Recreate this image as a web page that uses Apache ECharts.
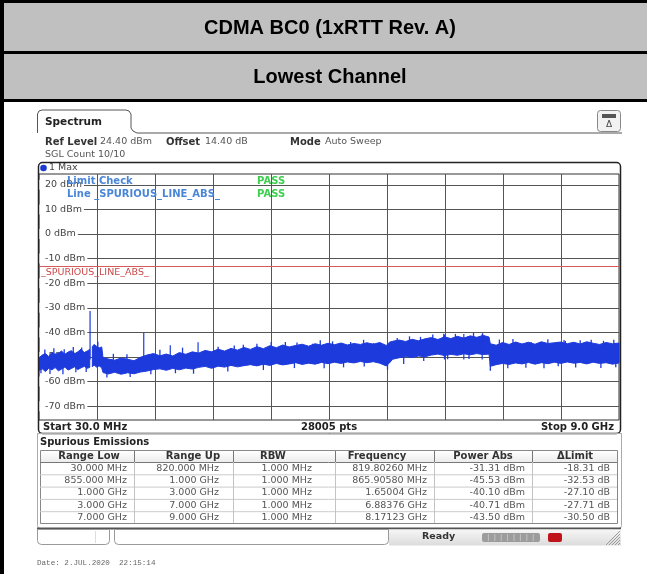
<!DOCTYPE html>
<html>
<head>
<meta charset="utf-8">
<script src="https://cdn.jsdelivr.net/npm/echarts@6/dist/echarts.min.js"></script>
<style>
  html, body { margin: 0; padding: 0; background: #fff; }
  #chart { width: 647px; height: 574px; }
</style>
</head>
<body>
<div id="chart"></div>
<script>
// sweep settings (MHz / dBm)
const startMHz = 30;
const stopMHz = 9000;
const refLevel = 24.4;
const bottomLevel = -75.6;
const limitLevel = -13;
const yGridLevels = [20, 10, 0, -10, -20, -30, -40, -50, -60, -70];

// max-hold trace envelope, 30 - 820 MHz
const seg1Freq = [30, 80, 130, 180, 230, 280, 330, 380, 430, 480, 530, 580, 630, 680, 730, 780, 815];
const seg1Top = [-50.3, -49.2, -48.6, -49.8, -48.1, -49.0, -48.4, -47.6, -48.9, -48.0, -47.4, -48.7, -47.9, -46.8, -48.2, -47.5, -46.9];
const seg1Bot = [-55.4, -54.8, -55.9, -54.6, -55.2, -54.3, -55.6, -54.9, -54.1, -55.3, -54.7, -54.0, -55.1, -54.4, -53.8, -54.6, -54.2];

// max-hold trace envelope, 855 MHz - 9 GHz
const seg2Freq = [855, 880, 920, 960, 1000, 1020, 1100, 1200, 1300, 1400, 1500, 1600, 1700, 1800, 1900, 2000,
  2100, 2200, 2300, 2400, 2500, 2600, 2700, 2800, 2900, 3000, 3100, 3200, 3300, 3400, 3500, 3600, 3700, 3800,
  3900, 4000, 4100, 4200, 4300, 4400, 4500, 4600, 4700, 4800, 4900, 5000, 5100, 5200, 5300, 5400, 5450, 5500,
  5600, 5700, 5800, 5900, 6000, 6100, 6200, 6300, 6400, 6500, 6600, 6700, 6800, 6900, 6990, 7010, 7100, 7200,
  7300, 7400, 7500, 7600, 7700, 7800, 7900, 8000, 8100, 8200, 8300, 8400, 8500, 8600, 8700, 8800, 8900, 9000];
const seg2Top = [-45.8, -44.9, -45.6, -46.3, -45.9, -50.2, -50.8, -51.3, -50.4, -50.9, -51.5, -50.1, -49.2, -48.6,
  -49.5, -48.8, -49.6, -48.2, -48.9, -47.9, -48.4, -47.3, -47.9, -46.8, -47.6, -46.5, -47.2, -46.1, -46.9, -45.8,
  -46.6, -45.4, -46.2, -45.1, -45.9, -45.3, -44.8, -45.6, -44.6, -45.2, -44.4, -45.0, -44.3, -45.1, -44.5, -44.9,
  -44.2, -44.8, -44.1, -45.3, -44.0, -43.6, -43.1, -43.7, -42.8, -43.4, -42.6, -42.1, -42.9, -41.8, -42.5, -41.6,
  -42.3, -41.4, -42.0, -41.2, -41.9, -44.6, -45.2, -44.1, -44.9, -43.9, -44.7, -44.0, -44.8, -43.8, -44.5, -44.2,
  -43.9, -44.6, -44.0, -44.7, -43.8, -44.4, -44.9, -44.1, -44.6, -44.3];
const seg2Bot = [-54.0, -53.2, -54.1, -53.6, -54.4, -56.3, -56.9, -56.2, -57.0, -56.4, -56.8, -56.1, -55.7, -55.1,
  -54.8, -55.4, -54.6, -55.2, -54.5, -54.9, -54.2, -53.8, -54.6, -53.7, -54.1, -53.4, -54.0, -53.5, -53.1, -53.6,
  -52.9, -53.4, -52.6, -53.2, -52.8, -52.3, -53.0, -52.5, -52.9, -52.2, -52.7, -52.1, -52.6, -52.0, -52.4, -51.8,
  -52.3, -51.9, -52.5, -53.6, -52.4, -50.9, -50.3, -49.8, -50.2, -49.6, -49.9, -49.2, -48.8, -49.4, -48.9, -49.3,
  -48.7, -49.1, -48.6, -49.0, -48.8, -53.8, -53.1, -52.6, -53.0, -52.4, -52.8, -52.2, -52.9, -52.3, -52.7, -52.1,
  -52.6, -52.0, -52.5, -52.2, -52.8, -52.1, -52.6, -52.3, -52.9, -52.4];

// single peaks sticking out of the noise
const spikeFreq = [819.8, 1650, 2060, 2490, 3620, 6300, 6600, 6884, 8171];
const spikeLevel = [-31.31, -40.10, -45.2, -44.0, -43.9, -40.9, -40.6, -40.71, -43.50];
const spikeBase = -51;

// short noise peaks on the upper edge of the trace
const grassUpFreq = [120, 260, 420, 560, 690, 940, 1180, 1390, 1900, 2250, 2800, 3050, 3190, 3400, 3840, 4020,
  4260, 4380, 4570, 4850, 5050, 5200, 5570, 5760, 5930, 6120, 6290, 6470, 6750, 6890, 7150, 7360, 7640, 7900,
  8150, 8400, 8570, 8760, 8920];
const grassUpLevel = [-46.9, -46.4, -46.8, -45.9, -46.1, -43.8, -48.7, -48.9, -47.0, -46.2, -45.8, -45.3, -45.0,
  -44.6, -43.9, -44.1, -44.6, -43.2, -43.6, -43.9, -43.0, -44.3, -42.3, -41.6, -41.8, -40.8, -40.5, -40.6, -40.2,
  -40.3, -42.9, -42.7, -43.9, -42.8, -43.1, -43.2, -43.0, -43.4, -43.0];
// short noise dips on the lower edge of the trace
const grassDownFreq = [60, 200, 400, 600, 760, 1080, 1440, 1760, 2140, 2420, 2950, 3500, 3980, 4440, 4740, 5060,
  5420, 5670, 5980, 6350, 6680, 7010, 7280, 7560, 7840, 8060, 8330, 8720, 8950];
const grassDownLevel = [-56.6, -56.9, -57.0, -56.2, -56.1, -58.3, -58.1, -57.0, -56.6, -56.8, -55.9, -55.3, -54.5,
  -54.6, -54.2, -53.9, -55.1, -52.8, -51.6, -50.9, -50.8, -55.6, -54.6, -54.4, -54.6, -53.8, -54.3, -54.5, -54.2];
const grassLength = 3.5;

// spurious emissions result table
const rangeLow = ['30.000 MHz', '855.000 MHz', '1.000 GHz', '3.000 GHz', '7.000 GHz'];
const rangeUp = ['820.000 MHz', '1.000 GHz', '3.000 GHz', '7.000 GHz', '9.000 GHz'];
const rbw = ['1.000 MHz', '1.000 MHz', '1.000 MHz', '1.000 MHz', '1.000 MHz'];
const peakFreq = ['819.80260 MHz', '865.90580 MHz', '1.65004 GHz', '6.88376 GHz', '8.17123 GHz'];
const powerAbs = ['-31.31 dBm', '-45.53 dBm', '-40.10 dBm', '-40.71 dBm', '-43.50 dBm'];
const deltaLimit = ['-18.31 dB', '-32.53 dB', '-27.10 dB', '-27.71 dB', '-30.50 dB'];
const tableHeads = ['Range Low', 'Range Up', 'RBW', 'Frequency', 'Power Abs', '\u0394Limit'];

const segments = [
  { freq: seg1Freq, top: seg1Top, bot: seg1Bot },
  { freq: seg2Freq, top: seg2Top, bot: seg2Bot }
];

const traceColor = '#1d3adc';
const UI = '"DejaVu Sans", Verdana, sans-serif';

// vertical grid: 10 divisions between start and stop
const xDivs = [];
for (let i = 1; i < 10; i++) xDivs.push(startMHz + i * (stopMHz - startMHz) / 10);

const chart = echarts.init(document.getElementById('chart'));

function txt(x, y, s, size, color, bold, align, family) {
  return {
    type: 'text', x: x, y: y, z: 100,
    style: {
      text: s,
      font: (bold ? 'bold ' : '') + size + 'px ' + (family || UI),
      fill: color,
      textAlign: align || 'left',
      textVerticalAlign: 'middle'
    }
  };
}
function rect(x, y, w, h, style, r) {
  return { type: 'rect', z: 100, shape: { x: x, y: y, width: w, height: h, r: r || 0 }, style: style };
}
function hline(x1, x2, y, color, w) {
  return { type: 'line', z: 100, shape: { x1: x1, y1: y, x2: x2, y2: y }, style: { stroke: color, lineWidth: w || 1 } };
}
function vline(x, y1, y2, color, w) {
  return { type: 'line', z: 100, shape: { x1: x, y1: y1, x2: x, y2: y2 }, style: { stroke: color, lineWidth: w || 1 } };
}

const g = [];
// report table header rows
g.push(rect(0, 0, 647, 100, { fill: '#c0c0c0' }));
g.push(rect(0, 0, 647, 3, { fill: '#000' }));
g.push(rect(0, 51, 647, 3, { fill: '#000' }));
g.push(rect(0, 99, 647, 3, { fill: '#000' }));
g.push(rect(0, 0, 4, 574, { fill: '#000' }));
g.push(txt(330, 28, 'CDMA BC0 (1xRTT Rev. A)', 20, '#000', true, 'center', '"Liberation Sans", Arial, sans-serif'));
g.push(txt(330, 77, 'Lowest Channel', 20, '#000', true, 'center', '"Liberation Sans", Arial, sans-serif'));

// spectrum tab
g.push({ type: 'polyline', z: 100, shape: { points: [[37.5, 133], [37.5, 114], [39, 111], [42, 110], [126, 110], [129, 111], [131, 114], [131, 128], [133, 131], [137, 133], [622, 133]] },
  style: { stroke: '#555', lineWidth: 1, fill: null } });
g.push(txt(45, 122, 'Spectrum', 10.5, '#222', true));
g.push(rect(597.5, 110.5, 23, 21, { fill: '#f2f2f2', stroke: '#888', lineWidth: 1 }, 3));
g.push(rect(602, 114, 14, 4, { fill: '#555' }));
g.push(txt(609, 125, '\u0394', 9, '#444', false, 'center'));

// settings lines
g.push(txt(45, 142, 'Ref Level', 10, '#333', true));
g.push(txt(100, 142, '24.40 dBm', 9.5, '#555'));
g.push(txt(166, 142, 'Offset', 10, '#333', true));
g.push(txt(205, 142, '14.40 dB', 9.5, '#555'));
g.push(txt(290, 142, 'Mode', 10, '#333', true));
g.push(txt(325, 142, 'Auto Sweep', 9.5, '#555'));
g.push(txt(45, 155, 'SGL Count 10/10', 9.5, '#555'));

// diagram frame
g.push(rect(38.5, 162.5, 582, 271, { fill: null, stroke: '#222', lineWidth: 1.5 }, 4));
g.push({ type: 'circle', z: 100, shape: { cx: 43.5, cy: 168, r: 3.3 }, style: { fill: '#1a3ad0' } });
g.push(txt(49, 168, '1 Max', 9.5, '#444'));
g.push(txt(67, 181.5, 'Limit Check', 10, '#4a86d8', true));
g.push(txt(257, 181.5, 'PASS', 10, '#3fcf50', true));
g.push(txt(67, 194.3, 'Line _SPURIOUS_LINE_ABS_', 10, '#4a86d8', true));
g.push(txt(257, 194.3, 'PASS', 10, '#3fcf50', true));
g.push(txt(43, 427, 'Start 30.0 MHz', 10, '#222', true));
g.push(txt(329, 427, '28005 pts', 10, '#222', true, 'center'));
g.push(txt(614, 427, 'Stop 9.0 GHz', 10, '#222', true, 'right'));

// spurious emissions panel
g.push(rect(37.5, 433.5, 584, 95, { fill: null, stroke: '#aaa', lineWidth: 1 }, [0, 0, 3, 3]));
g.push(txt(40, 442.5, 'Spurious Emissions', 10, '#222', true));
const colEdges = [40, 134, 233, 335, 434, 532, 617];
const headCenters = [89, 193, 273, 377, 483, 575];
const valueRight = [127, 219, 312, 427, 525, 610];
const rowTop = 462, rowH = 12.3;
g.push(rect(40.5, 450.5, 577, 73, { fill: '#fff', stroke: '#888', lineWidth: 1 }));
g.push(rect(41, 451, 576, 11, { fill: { type: 'linear', x: 0, y: 0, x2: 0, y2: 1, colorStops: [{ offset: 0, color: '#ffffff' }, { offset: 1, color: '#ececec' }] } }));
g.push(hline(40, 617, 462.5, '#777'));
for (let r = 1; r < 5; r++) g.push(hline(40, 617, rowTop + r * rowH + 0.5, '#ccc'));
for (let c = 1; c < 6; c++) {
  g.push(vline(colEdges[c] + 0.5, 451, 462, '#777'));
  g.push(vline(colEdges[c] + 0.5, 462, 523, '#c4c4c4'));
}
tableHeads.forEach((h, c) => g.push(txt(headCenters[c], 456.5, h, 10, '#333', true, 'center')));
const cols = [rangeLow, rangeUp, rbw, peakFreq, powerAbs, deltaLimit];
cols.forEach((col, c) => col.forEach((v, r) => g.push(txt(valueRight[c], rowTop + 6.3 + r * rowH, v, 9.5, '#555', false, 'right'))));

// status bar
g.push(hline(37, 621, 528.5, '#555', 2));
g.push(rect(389, 529.5, 232, 16, { fill: { type: 'linear', x: 0, y: 0, x2: 0, y2: 1, colorStops: [{ offset: 0, color: '#f6f6f6' }, { offset: 1, color: '#dcdcdc' }] } }));
g.push(rect(37.5, 529.5, 72, 15, { fill: '#fff', stroke: '#999', lineWidth: 1 }, [0, 0, 4, 4]));
g.push(vline(95.5, 531, 543, '#ddd'));
g.push(rect(114.5, 529.5, 274, 15, { fill: '#fff', stroke: '#999', lineWidth: 1 }, [0, 0, 4, 4]));
g.push(txt(422, 537, 'Ready', 9.5, '#333', true));
g.push(rect(482, 533, 58, 9, { fill: '#9c9c9c' }, 2));
for (let i = 1; i < 9; i++) g.push(vline(482 + i * 6.4, 534, 541, '#c2c2c2'));
g.push(rect(548, 533, 14, 9, { fill: '#c0141c' }, 2));
for (let i = 0; i < 5; i++) {
  g.push({ type: 'line', z: 100, shape: { x1: 606 + i * 3, y1: 545, x2: 620, y2: 531 + i * 3 }, style: { stroke: '#999', lineWidth: 1 } });
}

// timestamp
g.push(txt(37, 563, 'Date: 2.JUL.2020  22:15:14', 7.6, '#666', false, 'left', '"Liberation Mono", "DejaVu Sans Mono", monospace'));

function stick(api, f, from, to, width) {
  const a = api.coord([f, from]);
  const b = api.coord([f, to]);
  return { type: 'line', shape: { x1: a[0], y1: a[1], x2: b[0], y2: b[1] }, style: { stroke: traceColor, lineWidth: width } };
}

const option = {
  animation: false,
  backgroundColor: '#fff',
  grid: { left: 39, right: 28, top: 174, bottom: 154, show: true, borderColor: '#333', borderWidth: 1, backgroundColor: '#fff' },
  xAxis: {
    type: 'value', min: startMHz, max: stopMHz,
    axisLine: { show: false },
    axisTick: { show: false, customValues: xDivs },
    axisLabel: { show: false, customValues: xDivs },
    splitLine: { show: true, lineStyle: { color: '#555', width: 1 } }
  },
  yAxis: {
    type: 'value', min: bottomLevel, max: refLevel,
    axisLine: { show: false },
    axisTick: { show: false, customValues: yGridLevels },
    axisLabel: {
      customValues: yGridLevels, inside: true, margin: 0,
      formatter: '{value} dBm', color: '#444', fontSize: 9.5, fontFamily: UI,
      backgroundColor: '#fff', padding: [0, 2, 0, 6]
    },
    splitLine: { show: true, lineStyle: { color: '#555', width: 1 } }
  },
  graphic: { elements: g },
  series: [
    {
      type: 'custom', name: 'trace', silent: true, z: 3,
      data: segments.map((s, i) => [s.freq[0], s.top[0], i]),
      renderItem: function (params, api) {
        const s = segments[params.dataIndex];
        const pts = [];
        for (let k = 0; k < s.freq.length; k++) pts.push(api.coord([s.freq[k], s.top[k]]));
        for (let k = s.freq.length - 1; k >= 0; k--) pts.push(api.coord([s.freq[k], s.bot[k]]));
        return { type: 'polygon', shape: { points: pts }, style: { fill: traceColor, stroke: traceColor, lineWidth: 1 } };
      }
    },
    {
      type: 'custom', name: 'peaks', silent: true, z: 3,
      data: spikeFreq.map((f, i) => [f, spikeLevel[i]]),
      renderItem: function (params, api) {
        return stick(api, api.value(0), spikeBase, api.value(1), 1.2);
      }
    },
    {
      type: 'custom', name: 'grass up', silent: true, z: 3,
      data: grassUpFreq.map((f, i) => [f, grassUpLevel[i]]),
      renderItem: function (params, api) {
        return stick(api, api.value(0), api.value(1) - grassLength, api.value(1), 1.3);
      }
    },
    {
      type: 'custom', name: 'grass down', silent: true, z: 3,
      data: grassDownFreq.map((f, i) => [f, grassDownLevel[i]]),
      renderItem: function (params, api) {
        return stick(api, api.value(0), api.value(1) + grassLength, api.value(1), 1.3);
      }
    },
    {
      type: 'line', name: 'limit', data: [], z: 4,
      markLine: {
        silent: true, symbol: 'none', animation: false,
        lineStyle: { color: '#d65a5a', width: 1, type: 'solid' },
        label: {
          position: 'insideStartBottom', formatter: '_SPURIOUS_LINE_ABS_', distance: [2, 2],
          color: '#c94a4a', fontSize: 9.5, fontFamily: UI
        },
        data: [{ yAxis: limitLevel }]
      }
    }
  ]
};

chart.setOption(option);
</script>
</body>
</html>
